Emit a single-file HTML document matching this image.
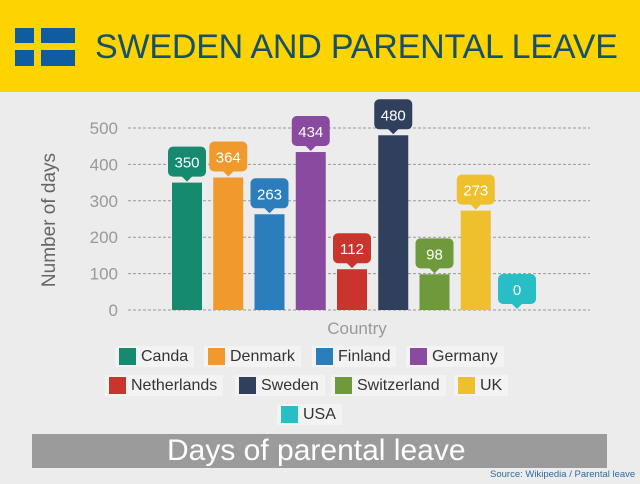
<!DOCTYPE html>
<html><head><meta charset="utf-8"><style>
body{margin:0;width:640px;height:484px;background:#ececec;font-family:"Liberation Sans",sans-serif;overflow:hidden;position:relative}
.hdr{position:absolute;left:0;top:0;width:640px;height:92px;background:#fdd300}
.title{position:absolute;left:95px;top:28px;font-size:34px;color:#17506b;letter-spacing:-0.2px;white-space:nowrap}
.leg{position:absolute;height:21px;background:#f3f3f3;font-size:16px;color:#333;line-height:21px;padding:0 6px 0 26px}
.leg i{position:absolute;left:4px;top:2px;width:17px;height:17px}
.foot{position:absolute;left:32px;top:434px;width:575px;height:34px;background:#9b9b9b;color:#fff;font-size:30px;line-height:34px}
.src{position:absolute;left:490px;top:469px;font-size:9.5px;color:#2f6aa0;white-space:nowrap}
</style></head><body>
<div class="hdr"></div>
<svg style="position:absolute;left:15px;top:28px" width="60" height="38">
<rect x="0" y="0" width="60" height="38" fill="#0f5ca0"/><rect x="19" y="0" width="7" height="38" fill="#fdd300"/><rect x="0" y="15" width="60" height="7" fill="#fdd300"/></svg>
<div class="title">SWEDEN AND PARENTAL LEAVE</div>
<svg id="chart" style="position:absolute;left:0;top:0" width="640" height="340"></svg>
<div id="legend"></div>
<div class="foot"><span style="position:absolute;left:135px">Days of parental leave</span></div>
<div class="src">Source: Wikipedia / Parental leave</div>
<script>
const categories=["Canda","Denmark","Finland","Germany","Netherlands","Sweden","Switzerland","UK","USA"];
const values=[350,364,263,434,112,480,98,273,0];
const colors=["#168a6e","#f09a2e","#2b7dbb","#8a4a9f","#c9352d","#2f3f5c","#6e9a3c","#eec02e","#27bfc5"];
const yTicks=[0,100,200,300,400,500];
const NS="http://www.w3.org/2000/svg";
const svg=document.getElementById('chart');
const y0=310,pxPer=182/500,x0=187,step=41.25,bw=30;
const Y=v=>y0-v*pxPer, X=i=>x0+i*step;
function mk(t,a,p){const e=document.createElementNS(NS,t);for(const k in a)e.setAttribute(k,a[k]);(p||svg).appendChild(e);return e;}
yTicks.forEach(t=>{
 const l=mk('line',{x1:128,x2:590,y1:Y(t),y2:Y(t),stroke:'#999','stroke-dasharray':'3,2','stroke-width':1});
 
 
 const tx=mk('text',{x:118,y:Y(t)+6,'text-anchor':'end','font-size':17,fill:'#999'});
 tx.textContent=t;
 
 
});
const yt=mk('text',{x:0,y:0,transform:'translate(55,220) rotate(-90)','text-anchor':'middle','font-size':19,fill:'#666'});
yt.textContent='Number of days';


const xt=mk('text',{x:357,y:334,'text-anchor':'middle','font-size':17,fill:'#999'});
xt.textContent='Country';


values.forEach((v,i)=>{
 const cx=X(i);
 const b=mk('rect',{x:cx-bw/2,y:Y(v),width:bw,height:y0-Y(v),fill:colors[i]});
 
 
 const g=mk('g',{});
 
 
 const by=Y(v)-1;
 mk('rect',{x:cx-19,y:by-35,width:38,height:30,rx:5,fill:colors[i]},g);
 mk('path',{d:`M${cx-6},${by-6} L${cx},${by} L${cx+6},${by-6}Z`,fill:colors[i]},g);
 const t=mk('text',{x:cx,y:by-14,'text-anchor':'middle','font-size':15,fill:'#fff'},g);
 t.textContent=v;
});
const leg=document.getElementById('legend');
const pos=[[115,346],[204,346],[312,346],[406,346],[105,375],[235,375],[331,375],[454,375],[277,404]];
categories.forEach((c,i)=>{
 const d=document.createElement('div');d.className='leg';
 d.style.left=pos[i][0]+'px';d.style.top=pos[i][1]+'px';
 d.innerHTML='<i style="background:'+colors[i]+'"></i>'+c;
 
 
 leg.appendChild(d);
});
</script>
</body></html>
